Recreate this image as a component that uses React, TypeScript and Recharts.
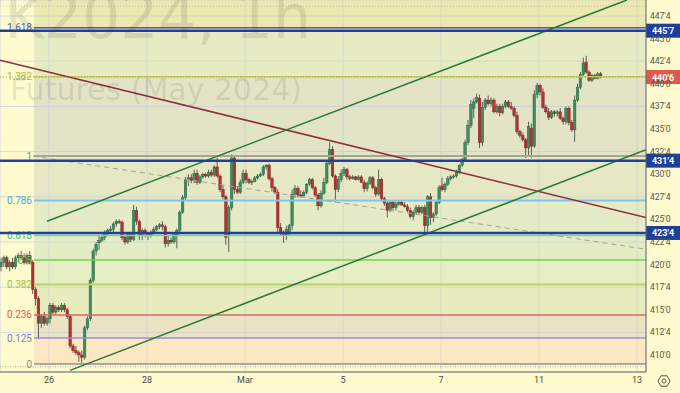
import React from "react";
import {
  ComposedChart,
  Bar,
  XAxis,
  YAxis,
  CartesianGrid,
  ReferenceLine,
  ReferenceArea,
} from "recharts";

// ZW hourly bars, one array per session: [open, high, low, close]
const feb23 = [
  [419.75, 420.75, 419.25, 420.25], [420.25, 421.0, 419.75, 420.75], [420.75, 421.0, 419.5, 419.75],
  [419.75, 420.5, 419.25, 420.25], [420.25, 420.75, 419.5, 419.75], [419.75, 421.0, 419.5, 420.75],
  [420.75, 421.25, 420.25, 421.0], [421.0, 421.5, 420.5, 420.75], [420.75, 421.25, 420.0, 420.25],
  [420.25, 421.25, 420.0, 421.0], [421.0, 421.5, 420.0, 420.25], [420.25, 420.5, 416.75, 417.25],
  [417.25, 417.5, 415.5, 416.25], [416.25, 416.5, 411.75, 413.5], [413.5, 414.5, 413.0, 414.25],
  [414.25, 414.75, 413.25, 413.5], [413.5, 414.25, 413.25, 414.0],
];
const feb26 = [
  [414.0, 415.75, 413.5, 415.5], [415.5, 415.75, 414.5, 414.75], [414.75, 415.5, 414.5, 415.25],
  [415.25, 415.5, 414.75, 415.0], [415.0, 415.75, 414.75, 415.5], [415.5, 415.75, 414.75, 415.0],
  [415.0, 415.25, 414.0, 414.25], [414.25, 414.5, 410.75, 411.0], [411.0, 411.25, 410.25, 410.5],
  [410.5, 411.0, 410.0, 410.25], [410.25, 410.5, 409.25, 410.0], [410.0, 410.5, 409.0, 409.75],
  [409.75, 413.25, 409.5, 413.0], [413.0, 414.25, 412.75, 414.0], [414.0, 418.5, 413.75, 418.25],
  [418.25, 421.75, 418.0, 421.5], [421.5, 422.5, 421.0, 422.25],
];
const feb27 = [
  [422.4, 423.2, 421.6, 422.7], [422.7, 423.3, 422.5, 423.0], [423.0, 423.8, 422.7, 423.6],
  [423.6, 424.0, 423.2, 423.8], [423.8, 424.3, 423.5, 423.9], [423.9, 424.7, 423.6, 424.5],
  [424.5, 425.0, 424.2, 424.8], [424.8, 425.0, 424.5, 424.7], [424.7, 424.9, 422.7, 423.0],
  [423.0, 423.3, 422.2, 422.5], [422.5, 423.5, 422.3, 423.3], [423.3, 423.5, 422.5, 422.8],
  [422.8, 426.6, 422.6, 426.0], [426.0, 426.4, 424.4, 424.8], [424.8, 425.0, 422.7, 423.2],
  [423.2, 424.0, 422.7, 423.8], [423.8, 424.0, 423.0, 423.4],
];
const feb28 = [
  [423.4, 423.6, 422.7, 423.2], [423.2, 423.8, 423.0, 423.6], [423.6, 424.2, 423.4, 423.9],
  [423.9, 424.4, 423.7, 424.2], [424.2, 424.6, 423.9, 424.4], [424.4, 424.8, 423.8, 424.2],
  [424.2, 424.4, 421.9, 422.3], [422.3, 423.2, 422.0, 422.7], [422.7, 423.0, 422.3, 422.5],
  [422.5, 423.6, 422.3, 423.4], [423.2, 424.0, 421.8, 423.8], [423.8, 426.0, 423.6, 425.8],
  [425.8, 427.7, 425.6, 427.4], [427.4, 429.7, 427.1, 429.4], [429.4, 430.0, 428.7, 429.6],
  [429.6, 430.0, 429.0, 429.3], [429.3, 430.5, 429.0, 430.1],
];
const feb29 = [
  [430.1, 430.5, 428.8, 429.1], [429.1, 429.9, 428.9, 429.7], [429.7, 430.2, 429.5, 430.0],
  [430.0, 430.2, 429.6, 429.8], [429.8, 430.5, 429.6, 430.2], [430.2, 430.5, 429.7, 429.9],
  [429.9, 431.0, 429.7, 430.8], [430.8, 431.8, 429.6, 429.8], [429.8, 430.0, 428.0, 428.3],
  [428.3, 428.8, 427.2, 427.5], [427.5, 427.7, 422.2, 423.0], [423.3, 426.6, 421.4, 426.3],
  [426.3, 432.2, 426.0, 431.8], [431.8, 432.0, 427.8, 428.3], [428.3, 428.7, 427.8, 428.0],
  [428.0, 429.4, 427.8, 429.1], [429.1, 430.5, 428.9, 430.1],
];
const mar1 = [
  [430.1, 430.5, 429.0, 429.4], [429.4, 429.6, 428.9, 429.1], [429.1, 429.4, 428.8, 429.2],
  [429.2, 429.8, 429.1, 429.6], [429.6, 430.0, 429.4, 429.8], [429.8, 430.2, 429.7, 430.0],
  [430.0, 431.0, 429.8, 430.8], [430.8, 431.1, 430.5, 431.0], [431.0, 431.2, 429.3, 429.5],
  [429.5, 429.7, 428.1, 428.5], [428.5, 428.7, 427.8, 428.0], [428.0, 428.3, 423.6, 424.1],
  [424.1, 424.6, 423.2, 423.6], [423.6, 423.8, 422.4, 423.3], [423.3, 424.3, 422.7, 423.9],
  [423.5, 424.5, 423.2, 424.3], [424.3, 428.3, 423.8, 427.8],
];
const mar4 = [
  [427.8, 428.8, 427.4, 428.4], [428.4, 428.7, 427.4, 427.7], [427.7, 428.2, 427.4, 427.6],
  [427.6, 428.2, 427.5, 428.0], [428.0, 429.0, 427.8, 428.9], [428.9, 429.6, 428.7, 429.4],
  [429.4, 429.6, 428.3, 428.5], [428.5, 428.7, 427.5, 427.7], [427.7, 427.9, 426.0, 426.5],
  [426.5, 428.2, 426.3, 427.9], [427.9, 429.6, 427.7, 429.1], [429.1, 431.6, 428.9, 431.2],
  [431.2, 433.5, 431.0, 432.7], [432.7, 433.1, 429.6, 429.8], [429.8, 430.0, 426.9, 428.3],
  [428.3, 429.8, 428.0, 429.4], [429.4, 430.5, 429.1, 430.1],
];
const mar5 = [
  [430.1, 430.8, 429.8, 430.5], [430.5, 430.7, 429.4, 429.7], [429.7, 429.9, 429.3, 429.5],
  [429.5, 429.9, 429.4, 429.7], [429.7, 429.8, 429.3, 429.4], [429.4, 429.9, 429.3, 429.7],
  [429.7, 429.9, 429.0, 429.1], [429.1, 429.4, 428.0, 428.4], [428.4, 429.2, 428.1, 429.0],
  [429.0, 429.8, 428.8, 429.6], [429.6, 429.8, 428.3, 428.5], [428.5, 428.7, 427.5, 427.8],
  [427.8, 430.5, 427.6, 429.4], [429.4, 429.6, 427.0, 427.3], [427.3, 427.5, 426.5, 426.8],
  [426.8, 427.0, 425.2, 426.0], [426.0, 427.1, 425.8, 426.9],
];
const mar6 = [
  [426.9, 427.1, 426.0, 426.3], [426.3, 427.0, 426.0, 426.7], [426.7, 427.1, 426.5, 426.9],
  [426.9, 427.1, 426.5, 426.6], [426.6, 426.9, 426.3, 426.4], [426.4, 426.7, 425.8, 426.0],
  [426.0, 426.3, 425.1, 425.3], [425.3, 426.0, 424.9, 425.8], [425.8, 426.6, 425.6, 426.3],
  [426.3, 426.6, 425.6, 425.8], [425.8, 426.5, 425.6, 426.3], [426.3, 426.6, 423.5, 424.3],
  [424.3, 427.7, 423.4, 427.5], [427.5, 427.9, 424.4, 425.2], [425.2, 425.8, 424.7, 425.6],
  [425.6, 427.1, 425.4, 426.9], [426.9, 428.8, 426.7, 428.5],
];
const mar7 = [
  [428.7, 429.6, 428.1, 428.3], [428.3, 429.1, 428.0, 428.9], [428.9, 429.8, 428.7, 429.5],
  [429.5, 429.9, 429.3, 429.7], [429.7, 430.0, 429.5, 429.8], [429.8, 430.5, 429.6, 430.2],
  [430.2, 431.1, 430.0, 431.0], [431.0, 431.8, 430.8, 431.6], [431.6, 433.8, 431.4, 433.5],
  [433.5, 436.0, 433.2, 435.4], [435.4, 438.2, 435.1, 437.7], [437.3, 438.4, 436.2, 438.0],
  [438.0, 438.9, 437.8, 438.5], [438.4, 438.8, 432.9, 433.5], [433.5, 438.0, 433.1, 437.4],
  [437.4, 438.4, 437.1, 438.2], [438.2, 438.7, 437.6, 437.8],
];
const mar8 = [
  [437.8, 438.5, 437.5, 438.2], [438.2, 438.4, 436.7, 436.9], [436.9, 437.8, 436.7, 437.5],
  [437.5, 437.8, 436.4, 436.8], [436.8, 437.8, 436.6, 437.5], [437.5, 438.2, 437.3, 438.0],
  [438.0, 438.2, 437.3, 437.5], [437.5, 438.0, 437.1, 437.3], [437.3, 437.5, 436.3, 436.5],
  [436.5, 436.9, 434.4, 434.7], [434.7, 434.9, 434.0, 434.3], [434.3, 434.6, 433.6, 433.8],
  [433.8, 434.0, 431.8, 432.9], [432.9, 435.8, 432.0, 435.3], [435.1, 435.6, 431.8, 433.1],
  [433.1, 439.3, 432.9, 438.8], [438.8, 440.1, 438.4, 439.8],
];
const mar11 = [
  [439.8, 440.0, 438.7, 439.1], [439.1, 439.5, 437.2, 437.4], [437.4, 437.7, 436.7, 436.9],
  [436.9, 437.3, 436.0, 436.3], [436.3, 437.1, 436.1, 436.9], [436.9, 437.1, 436.4, 436.7],
  [436.7, 437.1, 436.4, 436.9], [436.9, 437.3, 436.0, 436.2], [436.2, 436.4, 435.5, 435.8],
  [435.8, 437.5, 435.5, 437.3], [437.3, 437.5, 435.4, 435.7], [435.7, 436.0, 434.7, 434.9],
  [434.9, 438.7, 433.6, 438.2], [438.2, 440.0, 438.0, 439.6], [439.6, 441.3, 439.4, 441.0],
  [441.0, 442.9, 440.8, 442.3], [442.4, 443.1, 441.1, 441.3],
];
const mar12 = [
  [441.3, 441.5, 440.2, 440.4], [440.4, 441.1, 440.2, 440.9], [440.9, 441.1, 440.5, 440.6],
  [440.6, 441.3, 440.5, 441.1], [441.1, 441.3, 440.6, 440.75],
];

const sessions = [feb23, feb26, feb27, feb28, feb29, mar1, mar4, mar5, mar6, mar7, mar8, mar11, mar12];

// x axis: bar index, first bar of each labelled session
const dayTicks = [16.5, 50.5, 84.5, 118.5, 152.5, 186.5, 220.5];
const dayLabels = ["26", "28", "Mar", "5", "7", "11", "13"];
const priceTicks = [410, 412.5, 415, 417.5, 420, 422.5, 425, 427.5, 430, 432.5, 435, 437.5, 440, 442.5, 445, 447.5];

// fib retracement drawn from 409'0 to 432'0
const fibLow = 409.0;
const fibHigh = 432.0;
const fibStart = 11.3;
const fibRatios = [0, 0.125, 0.236, 0.382, 0.5, 0.618, 0.786, 1, 1.382, 1.618];
const fibNames = ["0", "0.125", "0.236", "0.382", "0.5", "0.618", "0.786", "1", "1.382", "1.618"];

// horizontal levels (price) and last price
const levels = [445.875, 431.5, 423.5];
const lastPrice = 440.75;

// trend lines [barIndex, price]
const channelTop = [[15.8, 424.8], [217, 449.27]];
const channelBottom = [[23.8, 408.3], [223.6, 432.7]];
const downLine = [[-0.5, 442.6], [223.6, 425.2]];
const fibTrend = [[10.95, 432.0], [223.6, 421.7]];

const X_MIN = -0.5;
const X_MAX = 223.6;
const Y_MIN = 408.12;
const Y_MAX = 449.27;

const fibLineColors = ["#a8a89a", "#9b8ce0", "#d9695c", "#b5d55e", "#74cc5c", "#6fd6a8", "#7cc6ea", "#a5a598", "#b9d068", "#4458c4"];
const fibTextColors = ["#8c8c80", "#8a7ad6", "#e05a4e", "#9ec23c", "#5cc04c", "#33c08e", "#4aa8de", "#8a8a80", "#a6bf3a", "#4f5fc8"];
// band fills (alpha 0.5) from level k to k+1, last one runs to the top
const fibFills = ["#f7d5b7", "#d7cbb7", "#cfddaf", "#cde1b7", "#c7dfbb", "#c9dbbd", "#cdd5b9", "#c7cbbd", "#cddbb5", "#d9d595"];

const fibPrice = (r: number) => fibLow + r * (fibHigh - fibLow);

const data = sessions.flat().map((b, i) => ({
  i,
  o: b[0],
  h: b[1],
  l: b[2],
  c: b[3],
  range: [b[2], b[1]],
}));

function fmtPrice(v: number) {
  const whole = Math.floor(v + 1e-9);
  return `${whole}'${Math.round((v - whole) * 8)}`;
}

function Candle(props: any) {
  const { x, y, width, height, payload } = props;
  if (x == null || payload == null) return null;
  const top = Math.min(y, y + height);
  const bottom = Math.max(y, y + height);
  const span = payload.h - payload.l;
  const k = span > 0 ? (bottom - top) / span : 0;
  const yAt = (v: number) => top + (payload.h - v) * k;
  const up = payload.c >= payload.o;
  const body = up ? "#3e8e5e" : "#b23232";
  const edge = up ? "#1f5d39" : "#7a1c1c";
  const cx = x + width / 2;
  const b1 = yAt(Math.max(payload.o, payload.c));
  const b2 = yAt(Math.min(payload.o, payload.c));
  return (
    <g>
      <line x1={cx} x2={cx} y1={top} y2={bottom} stroke="#5b5f58" strokeWidth={1} />
      <rect x={x - 0.3} y={b1} width={width + 0.6} height={Math.max(1, b2 - b1)} fill={body} stroke={edge} strokeWidth={0.4} />
    </g>
  );
}

function PriceTag(props: any) {
  const { viewBox, text, bg } = props;
  if (!viewBox) return null;
  const x = viewBox.x + viewBox.width;
  const y = viewBox.y;
  return (
    <g>
      <rect x={x} y={y - 7} width={34} height={14} fill={bg} />
      <text x={x + 17} y={y + 0.5} textAnchor="middle" dominantBaseline="central" fill="#ffffff" fontSize={9} fontWeight="bold" fontFamily="Roboto, sans-serif">
        {text}
      </text>
    </g>
  );
}

function FibTag(props: any) {
  const { viewBox, text, color } = props;
  if (!viewBox) return null;
  return (
    <text x={viewBox.x - 2} y={viewBox.y} textAnchor="end" dominantBaseline="central" fill={color} fontSize={10} fontFamily="Roboto, sans-serif">
      {text}
    </text>
  );
}

export default function App() {
  return (
    <div style={{ position: "fixed", left: 0, top: 0, width: 680, height: 393, background: "#fffbcf", overflow: "hidden" }}>
      <ComposedChart width={680} height={393} data={data} margin={{ top: 0, right: 0, bottom: 0, left: 0 }}>
        <CartesianGrid stroke="#d3d8e0" strokeWidth={1} />
        <XAxis
          dataKey="i"
          type="number"
          domain={[X_MIN, X_MAX]}
          allowDataOverflow
          ticks={dayTicks}
          tickFormatter={(v) => dayLabels[dayTicks.indexOf(v)] ?? ""}
          height={21}
          tickSize={0}
          tickMargin={5}
          tickLine={false}
          axisLine={{ stroke: "#6b6b66" }}
          tick={{ fontSize: 9, fill: "#4a4a46", fontFamily: "Roboto, sans-serif" }}
        />
        <YAxis
          orientation="right"
          type="number"
          domain={[Y_MIN, Y_MAX]}
          allowDataOverflow
          ticks={priceTicks}
          tickFormatter={fmtPrice}
          width={34}
          tickSize={0}
          tickMargin={4}
          tickLine={false}
          axisLine={{ stroke: "#6b6b66" }}
          tick={{ fontSize: 8.5, fill: "#55554f", fontFamily: "Roboto, sans-serif", textAnchor: "start" }}
        />

        {fibRatios.map((r, k) => (
          <ReferenceArea
            key={"band" + k}
            x1={fibStart}
            x2={X_MAX}
            y1={fibPrice(r)}
            y2={k + 1 < fibRatios.length ? fibPrice(fibRatios[k + 1]) : Y_MAX}
            fill={fibFills[k]}
            fillOpacity={0.5}
            stroke="none"
            ifOverflow="hidden"
          />
        ))}

        <ReferenceLine y={448.6} stroke="#bdbcae" strokeDasharray="1 2" ifOverflow="hidden" />
        <ReferenceLine y={408.7} stroke="#a9a89c" strokeDasharray="1 1.5" ifOverflow="hidden" />

        {fibRatios.map((r, k) => (
          <ReferenceLine
            key={"fib" + k}
            segment={[{ x: fibStart, y: fibPrice(r) }, { x: X_MAX, y: fibPrice(r) }]}
            stroke={fibLineColors[k]}
            strokeWidth={k === 0 || k === 7 || k === 3 || k === 6 ? 2 : 1.5}
            label={<FibTag text={fibNames[k]} color={fibTextColors[k]} />}
          />
        ))}

        <ReferenceLine
          segment={[{ x: fibTrend[0][0], y: fibTrend[0][1] }, { x: fibTrend[1][0], y: fibTrend[1][1] }]}
          stroke="#a3a39b"
          strokeWidth={1}
          strokeDasharray="5 4"
          ifOverflow="hidden"
        />
        <ReferenceLine
          segment={[{ x: downLine[0][0], y: downLine[0][1] }, { x: downLine[1][0], y: downLine[1][1] }]}
          stroke="#8c2f3c"
          strokeWidth={1.5}
          ifOverflow="hidden"
        />
        <ReferenceLine
          segment={[{ x: channelTop[0][0], y: channelTop[0][1] }, { x: channelTop[1][0], y: channelTop[1][1] }]}
          stroke="#2c7a38"
          strokeWidth={1.5}
          ifOverflow="hidden"
        />
        <ReferenceLine
          segment={[{ x: channelBottom[0][0], y: channelBottom[0][1] }, { x: channelBottom[1][0], y: channelBottom[1][1] }]}
          stroke="#2c7a38"
          strokeWidth={1.5}
          ifOverflow="hidden"
        />

        {levels.map((p) => (
          <ReferenceLine
            key={"lvl" + p}
            y={p}
            stroke="#22409a"
            strokeWidth={2.5}
            label={<PriceTag text={fmtPrice(p)} bg="#1f3f9c" />}
          />
        ))}
        <ReferenceLine
          y={lastPrice}
          stroke="#d9803c"
          strokeWidth={1}
          strokeDasharray="1 2"
          label={<PriceTag text={fmtPrice(lastPrice)} bg="#e2574a" />}
        />

        <Bar dataKey="range" barSize={2} shape={<Candle />} isAnimationActive={false} />
      </ComposedChart>

      <svg width={680} height={393} style={{ position: "absolute", left: 0, top: 0, pointerEvents: "none" }}>
        <text x={311} y={38} textAnchor="end" fontSize={60} fontFamily="DejaVu Sans, sans-serif" fill="#3c3c28" fillOpacity={0.12}>
          ZWK2024, 1h
        </text>
        <text x={10} y={100} fontSize={30} fontFamily="DejaVu Sans, sans-serif" fill="#3c3c28" fillOpacity={0.12}>
          Futures (May 2024)
        </text>
        <g transform="translate(664,381)" fill="none" stroke="#55554f" strokeWidth={1}>
          <path d="M -6 0 L -3 -5.2 L 3 -5.2 L 6 0 L 3 5.2 L -3 5.2 Z" />
          <circle r={2} />
        </g>
      </svg>
    </div>
  );
}
